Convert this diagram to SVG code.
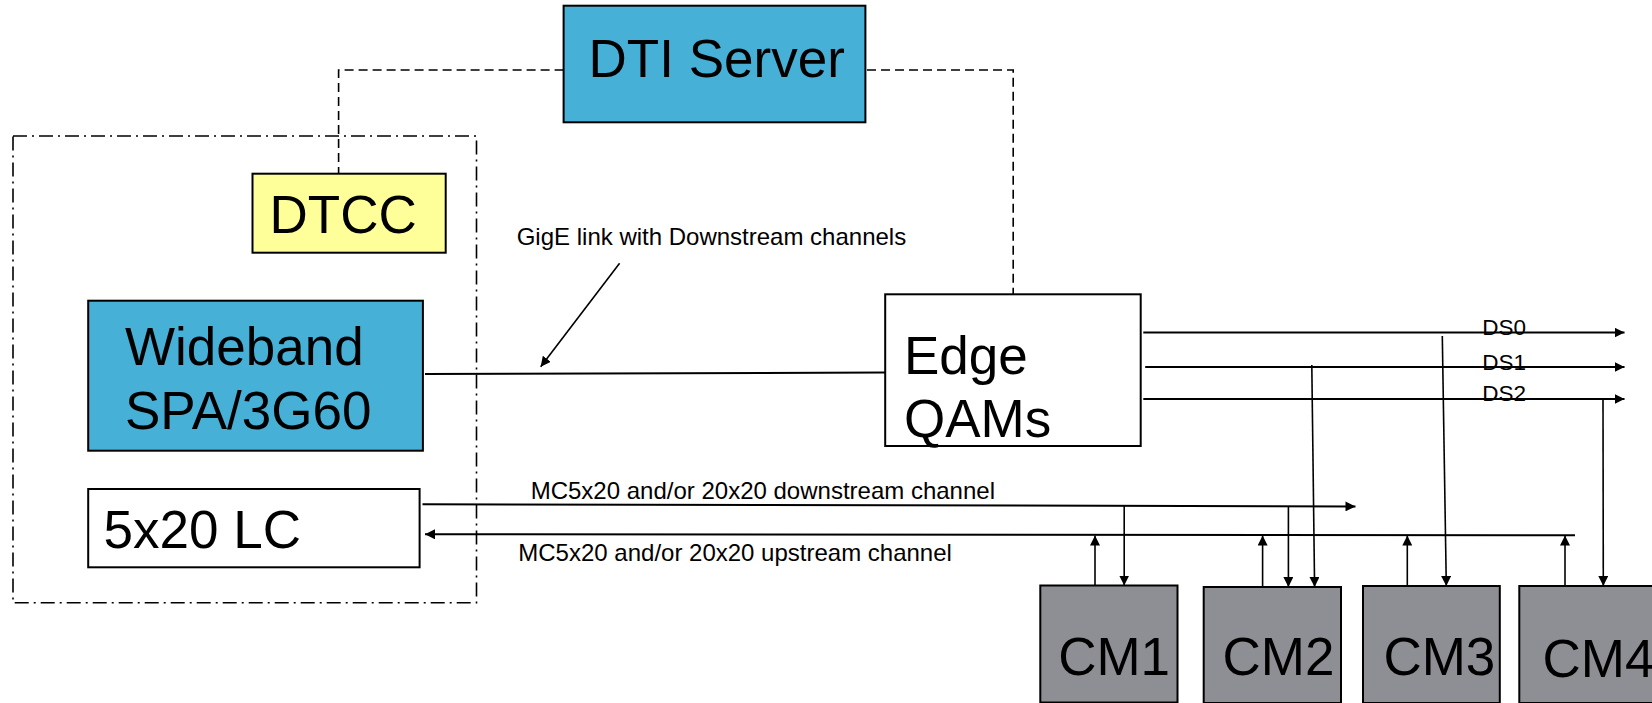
<svg xmlns="http://www.w3.org/2000/svg" width="1652" height="703" viewBox="0 0 1652 703">
<style>
.box{stroke:#000;stroke-width:2}
.big{font-family:"Liberation Sans",Arial,sans-serif;font-size:53px;fill:#000}
.small{font-family:"Liberation Sans",Arial,sans-serif;font-size:24px;fill:#000}
.ds{font-family:"Liberation Sans",Arial,sans-serif;font-size:22.5px;fill:#000}
.ln{stroke:#000;stroke-width:2;fill:none}
.vl{stroke:#000;stroke-width:1.6;fill:none}
.dash{stroke:#000;stroke-width:1.6;fill:none;stroke-dasharray:9,5}
.dashdot{stroke:#000;stroke-width:1.6;fill:none;stroke-dasharray:14,5,2,5}
</style>
<defs>
<marker id="ah" markerUnits="userSpaceOnUse" markerWidth="10" markerHeight="10" refX="10" refY="5" orient="auto" viewBox="0 0 10 10">
<path d="M0,0 L10,5 L0,10 z" fill="#000"/>
</marker>
</defs>
<rect width="1652" height="703" fill="#fff"/>
<g id="container">
<rect x="13" y="136" width="463.5" height="466.7" class="dashdot"/>
</g>
<g id="connectors">
<polyline points="563.6,70 338.6,70 338.6,173.7" class="dash"/>
<polyline points="867,70 1013.2,70 1013.2,294" class="dash"/>
<line x1="619.6" y1="263.3" x2="540.7" y2="366.7" class="vl" marker-end="url(#ah)"/>
<line x1="425" y1="374" x2="885" y2="372.5" class="ln"/>
<line x1="422.5" y1="504.2" x2="1355.5" y2="506.4" class="ln" marker-end="url(#ah)"/>
<line x1="1575" y1="535.3" x2="425" y2="534.3" class="ln" marker-end="url(#ah)"/>
<line x1="1143.3" y1="332.6" x2="1624.5" y2="332.6" class="ln" marker-end="url(#ah)"/>
<line x1="1145.2" y1="367" x2="1624.5" y2="367" class="ln" marker-end="url(#ah)"/>
<line x1="1143.3" y1="399" x2="1624.5" y2="399" class="ln" marker-end="url(#ah)"/>
<line x1="1095" y1="585.5" x2="1095" y2="535.5" class="vl" marker-end="url(#ah)"/>
<line x1="1124.2" y1="505.5" x2="1124.2" y2="585.5" class="vl" marker-end="url(#ah)"/>
<line x1="1262.6" y1="587" x2="1262.6" y2="535.5" class="vl" marker-end="url(#ah)"/>
<line x1="1288.4" y1="506.3" x2="1288.4" y2="587" class="vl" marker-end="url(#ah)"/>
<line x1="1311.8" y1="365" x2="1314.6" y2="587" class="vl" marker-end="url(#ah)"/>
<line x1="1407.3" y1="586" x2="1407.3" y2="535.5" class="vl" marker-end="url(#ah)"/>
<line x1="1442.3" y1="336" x2="1446.3" y2="586" class="vl" marker-end="url(#ah)"/>
<line x1="1565" y1="586" x2="1565" y2="535.5" class="vl" marker-end="url(#ah)"/>
<line x1="1603" y1="399" x2="1603.3" y2="586" class="vl" marker-end="url(#ah)"/>
<text x="516.7" y="245" class="small">GigE link with Downstream channels</text>
<text x="530.7" y="499.3" class="small">MC5x20 and/or 20x20 downstream channel</text>
<text x="518.3" y="560.7" class="small">MC5x20 and/or 20x20 upstream channel</text>
<text x="1482.3" y="335.3" class="ds">DS0</text>
<text x="1482.3" y="369.5" class="ds">DS1</text>
<text x="1482.3" y="401.3" class="ds">DS2</text>
</g>
<g id="dti-server">
<rect x="563.6" y="5.7" width="301.8" height="116.6" fill="#46B0D6" class="box"/>
<text x="588.6" y="76.7" class="big">DTI Server</text>
</g>
<g id="dtcc">
<rect x="252.5" y="173.7" width="193.2" height="79" fill="#FFFF99" class="box"/>
<text x="269.6" y="233.3" class="big">DTCC</text>
</g>
<g id="wideband">
<rect x="88.2" y="300.7" width="334.7" height="150" fill="#46B0D6" class="box"/>
<text x="125" y="365" class="big">Wideband</text>
<text x="125" y="429" class="big">SPA/3G60</text>
</g>
<g id="lc">
<rect x="88.2" y="489" width="331.4" height="78.3" fill="#fff" class="box"/>
<text x="103.6" y="548.3" class="big">5x20 LC</text>
</g>
<g id="edge-qams">
<rect x="885.2" y="294.3" width="255.5" height="151.7" fill="#fff" class="box"/>
<text x="904" y="374" class="big">Edge</text>
<text x="904" y="437.3" class="big">QAMs</text>
</g>
<g id="cm1">
<rect x="1040.3" y="585.5" width="137.2" height="117" fill="#8E8F94" class="box"/>
<text x="1058.2" y="675" class="big">CM1</text>
</g>
<g id="cm2">
<rect x="1203.7" y="587" width="137.3" height="116" fill="#8E8F94" class="box"/>
<text x="1222.5" y="675" class="big">CM2</text>
</g>
<g id="cm3">
<rect x="1363" y="586" width="136.8" height="117" fill="#8E8F94" class="box"/>
<text x="1383.4" y="675" class="big">CM3</text>
</g>
<g id="cm4">
<rect x="1519.3" y="586" width="145" height="117" fill="#8E8F94" class="box"/>
<text x="1542.6" y="676.5" class="big">CM4</text>
</g>
</svg>
